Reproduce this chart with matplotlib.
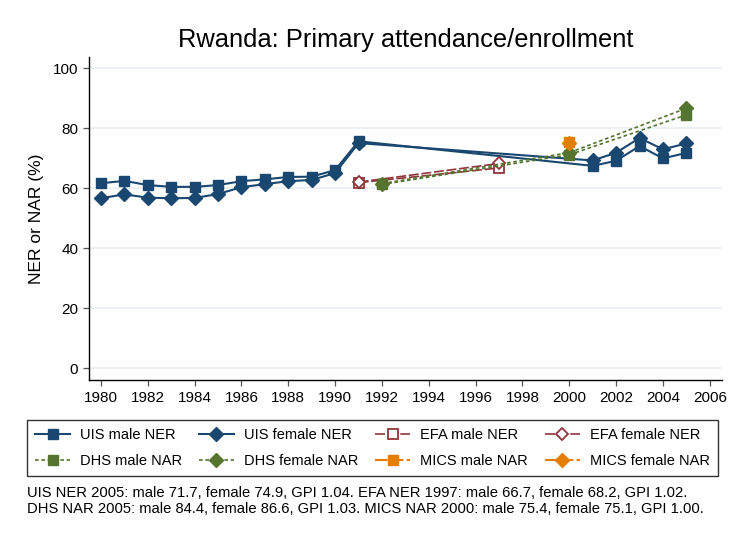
import matplotlib
matplotlib.use("Agg")
import matplotlib.pyplot as plt

plt.rcParams['font.family'] = ['Liberation Sans', 'DejaVu Sans']

# ---- data ----
uis_years = [1980, 1981, 1982, 1983, 1984, 1985, 1986, 1987, 1988, 1989, 1990, 1991,
             2001, 2002, 2003, 2004, 2005]
uis_male = [61.6, 62.4, 61.0, 60.4, 60.4, 61.0, 62.3, 62.9, 63.7, 63.8, 66.0, 75.6,
            67.4, 69.1, 74.0, 69.9, 71.7]
uis_female = [56.6, 57.9, 56.8, 56.6, 56.7, 58.0, 60.3, 61.3, 62.3, 62.7, 65.0, 75.0,
              69.2, 71.8, 76.7, 72.9, 74.9]

efa_years = [1991, 1997]
efa_male = [61.8, 66.7]
efa_female = [62.0, 68.2]

dhs_years = [1992, 2000, 2005]
dhs_male = [61.2, 71.1, 84.4]
dhs_female = [61.5, 71.8, 86.6]

mics_years = [2000]
mics_male = [75.4]
mics_female = [75.1]

title = "Rwanda: Primary attendance/enrollment"
ylabel = "NER or NAR (%)"
xticks = list(range(1980, 2007, 2))
yticks = [0, 20, 40, 60, 80, 100]
note = ("UIS NER 2005: male 71.7, female 74.9, GPI 1.04. EFA NER 1997: male 66.7, female 68.2, GPI 1.02.\n"
        "DHS NAR 2005: male 84.4, female 86.6, GPI 1.03. MICS NAR 2000: male 75.4, female 75.1, GPI 1.00.")

NAVY = '#1a476f'
MAROON = '#90353b'
GREEN = '#55752f'
ORANGE = '#e37e00'

W, H = 731, 536
fig = plt.figure(figsize=(W / 100, H / 100), dpi=100)
fig.patch.set_facecolor('white')
ax = fig.add_axes([89 / W, 1 - 380 / H, (722 - 89) / W, (380 - 57) / H])

ax.set_xlim(1979.49, 2006.52)
ax.set_ylim(-4, 103.7)

for y in yticks:
    ax.axhline(y, color='#eaf0f3', lw=1.3, zorder=0)

longdash = (0, (6, 1.6))
shortdash = (0, (2.2, 1.6))

h1, = ax.plot(uis_years, uis_male, color=NAVY, lw=1.5, marker='s', ms=7.5,
              label='UIS male NER', zorder=3)
h2, = ax.plot(uis_years, uis_female, color=NAVY, lw=1.5, marker='D', ms=7,
              label='UIS female NER', zorder=3)
h3, = ax.plot(efa_years, efa_male, color=MAROON, lw=1.2, linestyle=longdash, marker='s', ms=6.5,
              mfc='white', mec=MAROON, mew=1.3, label='EFA male NER', zorder=4)
h4, = ax.plot(efa_years, efa_female, color=MAROON, lw=1.2, linestyle=longdash, marker='D', ms=6.5,
              mfc='white', mec=MAROON, mew=1.3, label='EFA female NER', zorder=4)
h5, = ax.plot(dhs_years, dhs_male, color=GREEN, lw=1.2, linestyle=shortdash, marker='s', ms=7.5,
              label='DHS male NAR', zorder=5)
h6, = ax.plot(dhs_years, dhs_female, color=GREEN, lw=1.2, linestyle=shortdash, marker='D', ms=7,
              label='DHS female NAR', zorder=5)
h7, = ax.plot(mics_years, mics_male, color=ORANGE, lw=1.5, linestyle=longdash, marker='s', ms=7.5,
              label='MICS male NAR', zorder=6)
h8, = ax.plot(mics_years, mics_female, color=ORANGE, lw=1.5, linestyle=longdash, marker='D', ms=7,
              label='MICS female NAR', zorder=6)

ax.set_xticks(xticks)
ax.set_yticks(yticks)
ax.tick_params(axis='both', direction='out', length=4.3, width=0.9, color='#555555',
               labelsize=11, pad=3.5)
for s in ['top', 'right']:
    ax.spines[s].set_visible(False)
for s in ['left', 'bottom']:
    ax.spines[s].set_linewidth(1.0)
    ax.spines[s].set_color('black')
ax.set_ylabel(ylabel, fontsize=12.5, labelpad=6)
ax.set_facecolor('white')

ax_center = (89 + 722) / 2 / W
fig.text(ax_center, 1 - 40 / H, title, ha='center', va='center', fontsize=18.4)

handles = [h1, h5, h2, h6, h3, h7, h4, h8]
leg = fig.legend(handles=handles, labels=[h.get_label() for h in handles],
                 ncol=4, loc='center', mode='expand',
                 bbox_to_anchor=(27 / W, 1 - 478 / H, (718 - 27) / W, 60 / H),
                 fontsize=10.5, frameon=True, fancybox=False, edgecolor='black',
                 handlelength=2.4, handletextpad=0.7, columnspacing=1.2,
                 labelspacing=0.85, borderpad=0.55, borderaxespad=0)
leg.get_frame().set_linewidth(1.0)

fig.text(27 / W, 1 - 501 / H, note, ha='left', va='center', fontsize=10.6, linespacing=1.1)

fig.savefig('out.png', dpi=100, facecolor='white')
